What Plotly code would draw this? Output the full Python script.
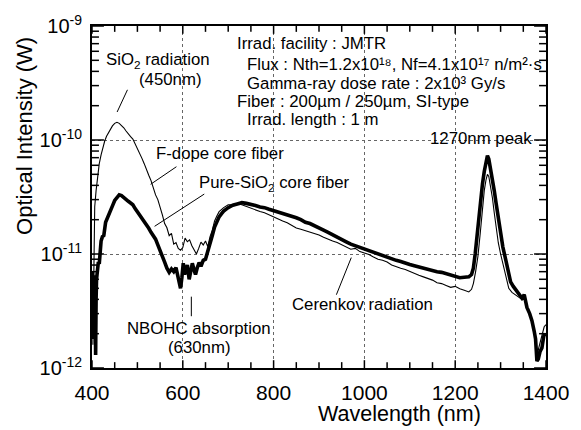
import math
import plotly.graph_objects as go

# ---------------- data ----------------
wl_fdope = [402, 404, 406, 409, 412, 416, 420, 424, 428, 432, 436, 440, 445, 450, 455, 460, 465, 470, 475, 480,
            485, 490, 495, 500, 505, 510, 515, 520, 525, 530, 535, 540, 545, 550, 555, 560, 565, 570, 575, 580,
            585, 590, 595, 600, 605, 610, 615, 620, 625, 630, 635, 640, 645, 650, 655, 660, 665, 670, 675, 680,
            690, 700, 710, 720, 730, 740, 750, 760, 770, 780, 790, 800, 810, 820, 830, 840, 850, 860, 870, 880,
            890, 900, 910, 920, 930, 940, 950, 960, 970, 980, 990, 1000, 1010, 1020, 1030, 1040, 1050, 1060, 1070, 1080,
            1090, 1100, 1110, 1120, 1130, 1140, 1150, 1160, 1170, 1180, 1190, 1200, 1210, 1220, 1230, 1236, 1240, 1245, 1250, 1255,
            1260, 1264, 1268, 1271, 1274, 1278, 1282, 1286, 1290, 1295, 1300, 1305, 1310, 1318, 1325, 1333, 1340, 1347, 1352, 1358,
            1364, 1370, 1375, 1378, 1381, 1384, 1388, 1392, 1396, 1400]
int_fdope = [1.6e-12, 1.1e-11, 2.6e-11, 3.6e-11, 4.6e-11, 6.2e-11, 7.4e-11, 8.8e-11, 9.8e-11, 1.08e-10,
             1.16e-10, 1.24e-10, 1.33e-10, 1.40e-10, 1.43e-10, 1.40e-10, 1.35e-10, 1.28e-10, 1.20e-10, 1.12e-10,
             1.07e-10, 1.02e-10, 9.3e-11, 8.4e-11, 7.6e-11, 6.9e-11, 6.2e-11, 5.6e-11, 4.9e-11, 4.4e-11,
             3.8e-11, 3.3e-11, 3.0e-11, 2.6e-11, 2.2e-11, 1.85e-11, 1.7e-11, 1.45e-11, 1.52e-11, 1.22e-11,
             1.26e-11, 1.12e-11, 1.08e-11, 1.14e-11, 1.38e-11, 1.28e-11, 1.33e-11, 1.18e-11, 1.07e-11, 1.0e-11,
             1.12e-11, 1.27e-11, 1.2e-11, 1.3e-11, 1.16e-11, 1.42e-11, 1.62e-11, 1.95e-11, 2.15e-11, 2.35e-11,
             2.55e-11, 2.7e-11, 2.72e-11, 2.76e-11, 2.7e-11, 2.6e-11, 2.52e-11, 2.42e-11, 2.36e-11, 2.3e-11,
             2.2e-11, 2.14e-11, 2.02e-11, 1.95e-11, 1.88e-11, 1.78e-11, 1.69e-11, 1.65e-11, 1.6e-11, 1.55e-11,
             1.52e-11, 1.47e-11, 1.4e-11, 1.34e-11, 1.3e-11, 1.26e-11, 1.21e-11, 1.15e-11, 1.1e-11, 1.12e-11,
             1.05e-11, 1.02e-11, 9.9e-12, 9.4e-12, 9.0e-12, 8.8e-12, 8.5e-12, 8.0e-12, 7.8e-12, 7.5e-12,
             7.3e-12, 7.0e-12, 6.8e-12, 6.5e-12, 6.3e-12, 6.1e-12, 5.9e-12, 5.6e-12, 5.5e-12, 5.3e-12,
             5.1e-12, 5.2e-12, 4.95e-12, 4.8e-12, 4.65e-12, 4.9e-12, 5.5e-12, 7.0e-12, 9.5e-12, 1.5e-11,
             2.5e-11, 3.6e-11, 4.5e-11, 5.0e-11, 4.8e-11, 4.0e-11, 3.1e-11, 2.3e-11, 1.7e-11, 1.25e-11,
             1.0e-11, 8.2e-12, 6.6e-12, 5.0e-12, 4.6e-12, 4.4e-12, 4.2e-12, 4.0e-12, 4.1e-12, 3.5e-12,
             2.9e-12, 2.5e-12, 2.0e-12, 1.6e-12, 1.3e-12, 1.5e-12, 1.7e-12, 2.0e-12, 2.3e-12, 2.4e-12]

wl_pure = [401, 402, 403, 404, 405, 406, 407, 408, 409, 410, 412, 414, 416, 418, 420, 423, 426, 430, 434, 438,
           442, 446, 450, 455, 460, 465, 470, 475, 480, 485, 490, 495, 500, 505, 510, 515, 520, 525, 530, 535,
           540, 545, 550, 555, 560, 565, 570, 575, 580, 585, 590, 595, 598, 601, 604, 607, 610, 614, 618, 621,
           625, 628, 632, 636, 640, 645, 650, 655, 660, 665, 670, 675, 680, 685, 690, 700, 710, 720, 730, 740,
           750, 760, 770, 780, 790, 800, 810, 820, 830, 840, 850, 860, 870, 880, 890, 900, 910, 920, 930, 940,
           950, 960, 970, 980, 990, 1000, 1010, 1020, 1030, 1040, 1050, 1060, 1070, 1080, 1090, 1100, 1110, 1120, 1130, 1140,
           1150, 1160, 1170, 1180, 1190, 1200, 1210, 1220, 1230, 1236, 1240, 1244, 1248, 1252, 1256, 1260, 1264, 1268, 1271, 1274,
           1278, 1282, 1286, 1290, 1295, 1300, 1305, 1311, 1316, 1322, 1328, 1336, 1342, 1347, 1352, 1358, 1364, 1369, 1374, 1377,
           1380, 1383, 1387, 1391, 1395, 1398]
int_pure = [7.0e-12, 3.0e-12, 6.0e-12, 1.8e-12, 5.5e-12, 2.5e-12, 6.5e-12, 1.3e-12, 4.0e-12, 6.0e-12,
            7.5e-12, 8.5e-12, 8.2e-12, 1.05e-11, 1.3e-11, 1.42e-11, 1.45e-11, 1.9e-11, 2.1e-11, 2.3e-11,
            2.5e-11, 2.7e-11, 2.95e-11, 3.15e-11, 3.3e-11, 3.25e-11, 3.15e-11, 3.0e-11, 2.9e-11, 2.8e-11,
            2.7e-11, 2.5e-11, 2.35e-11, 2.2e-11, 2.05e-11, 1.92e-11, 1.8e-11, 1.68e-11, 1.55e-11, 1.45e-11,
            1.35e-11, 1.2e-11, 1.05e-11, 9.4e-12, 8.5e-12, 7.5e-12, 6.9e-12, 7.4e-12, 7.0e-12, 7.6e-12,
            6.0e-12, 5.0e-12, 6.2e-12, 8.3e-12, 6.6e-12, 7.2e-12, 8.0e-12, 6.0e-12, 7.0e-12, 8.3e-12,
            7.2e-12, 6.6e-12, 7.6e-12, 8.4e-12, 7.8e-12, 8.8e-12, 9.0e-12, 1.04e-11, 1.2e-11, 1.45e-11,
            1.72e-11, 1.95e-11, 2.12e-11, 2.25e-11, 2.38e-11, 2.55e-11, 2.68e-11, 2.75e-11, 2.82e-11, 2.78e-11,
            2.74e-11, 2.66e-11, 2.58e-11, 2.55e-11, 2.47e-11, 2.4e-11, 2.36e-11, 2.28e-11, 2.2e-11, 2.16e-11,
            2.08e-11, 2.0e-11, 1.9e-11, 1.85e-11, 1.78e-11, 1.7e-11, 1.62e-11, 1.55e-11, 1.47e-11, 1.4e-11,
            1.33e-11, 1.28e-11, 1.22e-11, 1.18e-11, 1.15e-11, 1.12e-11, 1.08e-11, 1.03e-11, 1.0e-11, 9.7e-12,
            9.4e-12, 9.1e-12, 8.8e-12, 8.6e-12, 8.3e-12, 8.1e-12, 7.9e-12, 7.7e-12, 7.5e-12, 7.3e-12,
            7.2e-12, 7.0e-12, 6.9e-12, 6.7e-12, 6.5e-12, 6.4e-12, 6.2e-12, 6.25e-12, 6.3e-12, 6.6e-12,
            7.5e-12, 1.0e-11, 1.45e-11, 2.1e-11, 3.0e-11, 4.1e-11, 5.3e-11, 6.6e-11, 7.3e-11, 6.8e-11,
            5.6e-11, 4.6e-11, 3.6e-11, 2.8e-11, 2.0e-11, 1.5e-11, 1.15e-11, 9.0e-12, 7.0e-12, 5.7e-12,
            5.2e-12, 4.7e-12, 4.4e-12, 4.1e-12, 4.4e-12, 3.4e-12, 3.0e-12, 2.6e-12, 2.1e-12, 1.8e-12,
            1.15e-12, 1.2e-12, 1.4e-12, 1.5e-12, 1.9e-12, 2.0e-12]

x_ticks = [400, 600, 800, 1000, 1200, 1400]
x_minor = [450, 500, 550, 650, 700, 750, 850, 900, 950, 1050, 1100, 1150, 1250, 1300, 1350]
y_ticks = [1e-12, 1e-11, 1e-10, 1e-9]
y_ticktext = ["10<sup>-12</sup>", "10<sup>-11</sup>", "10<sup>-10</sup>", "10<sup>-9</sup>"]
y_minor = [k * 10.0 ** e for e in (-12, -11, -10) for k in range(2, 10)]

X_RANGE = [400, 1400]
Y_RANGE = [-12, -9]  # log10

# ---------------- layout geometry ----------------
W, H = 581, 430
L, R, T, B = 92, 549, 18, 368
PW, PH = R - L, B - T
FONT = "Liberation Sans, Arial, Helvetica, sans-serif"


def px(x):
    return (x - L) / (R - L)


def py(y):
    return (B - y) / (B - T)


fig = go.Figure()
fig.add_trace(go.Scatter(x=wl_fdope, y=int_fdope, mode="lines",
                         line=dict(color="black", width=1.1), name="F-dope core fiber",
                         showlegend=False))
fig.add_trace(go.Scatter(x=wl_pure, y=int_pure, mode="lines",
                         line=dict(color="black", width=3.6), name="Pure-SiO2 core fiber",
                         showlegend=False))

# inside tick marks on all four sides (major and minor), built from the tick lists
xspan = X_RANGE[1] - X_RANGE[0]
tx, ty = [], []
for vals, length in ((x_ticks, 8), (x_minor, 6)):
    dy = length / PH * (Y_RANGE[1] - Y_RANGE[0])
    for v in vals:
        tx += [v, v, None, v, v, None]
        ty += [10 ** Y_RANGE[0], 10 ** (Y_RANGE[0] + dy), None,
               10 ** Y_RANGE[1], 10 ** (Y_RANGE[1] - dy), None]
for vals, length in ((y_ticks, 12), (y_minor, 7)):
    dx = length / PW * xspan
    for v in vals:
        tx += [X_RANGE[0], X_RANGE[0] + dx, None, X_RANGE[1], X_RANGE[1] - dx, None]
        ty += [v, v, None, v, v, None]
fig.add_trace(go.Scatter(x=tx, y=ty, mode="lines", line=dict(color="black", width=1.5),
                         hoverinfo="skip", showlegend=False))

fig.update_layout(
    width=W, height=H, autosize=False,
    margin=dict(l=L, r=W - R, t=T, b=H - B, pad=0),
    paper_bgcolor="white", plot_bgcolor="white",
    font=dict(family=FONT, color="black", size=17),
)
fig.update_xaxes(
    range=X_RANGE, tickmode="array", tickvals=x_ticks,
    ticks="", showline=True, linewidth=2, linecolor="black", mirror=True,
    showgrid=True, gridcolor="#666", griddash="dot", gridwidth=1,
    zeroline=False, tickfont=dict(size=21, family=FONT), ticklabelstandoff=5,
)
fig.update_yaxes(
    type="log", range=Y_RANGE, tickmode="array", tickvals=y_ticks, ticktext=y_ticktext,
    ticks="", showline=True, linewidth=2, linecolor="black", mirror=True,
    showgrid=True, gridcolor="#666", griddash="dot", gridwidth=1,
    zeroline=False, tickfont=dict(size=20, family=FONT), ticklabelstandoff=4,
)

anns = [
    ("SiO<sub>2</sub> radiation", 158, 53, "center"),
    ("(450nm)", 171, 73, "center"),
    ("F-dope core fiber", 221, 148, "center"),
    ("Pure-SiO<sub>2</sub> core fiber", 276, 179, "center"),
    ("NBOHC absorption", 200, 328, "center"),
    ("(630nm)", 200, 347, "center"),
    ("Cerenkov radiation", 364, 303, "center"),
    ("1270nm peak", 484, 133, "center"),
    ("Irrad. facility : JMTR", 237, 35.5, "left"),
    ("Flux : Nth=1.2x10\u00b9\u2078, Nf=4.1x10\u00b9\u2077 n/m\u00b2\u00b7s", 247, 57, "left"),
    ("Gamma-ray dose rate : 2x10\u00b3 Gy/s", 247, 77, "left"),
    ("Fiber : 200\u00b5m / 250\u00b5m, SI-type", 237, 95.5, "left"),
    ("Irrad. length : 1 m", 247, 113.5, "left"),
]
for text, x, y, anchor in anns:
    fig.add_annotation(text=text, x=px(x), y=py(y), xref="paper", yref="paper",
                       xanchor=anchor, yanchor="middle", showarrow=False,
                       font=dict(size=16.8, family=FONT, color="black"), borderpad=0)

# axis titles
fig.add_annotation(text="Wavelength (nm)", x=px(402), y=py(415), xref="paper", yref="paper",
                   xanchor="center", yanchor="middle", showarrow=False,
                   font=dict(size=21.5, family=FONT, color="black"))
fig.add_annotation(text="Optical Intensity (W)", x=px(24), y=py(130), xref="paper", yref="paper",
                   xanchor="center", yanchor="middle", showarrow=False, textangle=-90,
                   font=dict(size=22, family=FONT, color="black"))

# leader lines
leaders = [
    (127.7, 83.3, 117.3, 106),
    (177, 162, 151, 180),
    (205, 190, 155, 223),
    (192, 295, 192, 315),
    (338, 293, 353, 255),
]
for x0, y0, x1, y1 in leaders:
    fig.add_shape(type="line", xref="paper", yref="paper",
                  x0=px(x0), y0=py(y0), x1=px(x1), y1=py(y1),
                  line=dict(color="black", width=1))

fig.write_html("out.html")
